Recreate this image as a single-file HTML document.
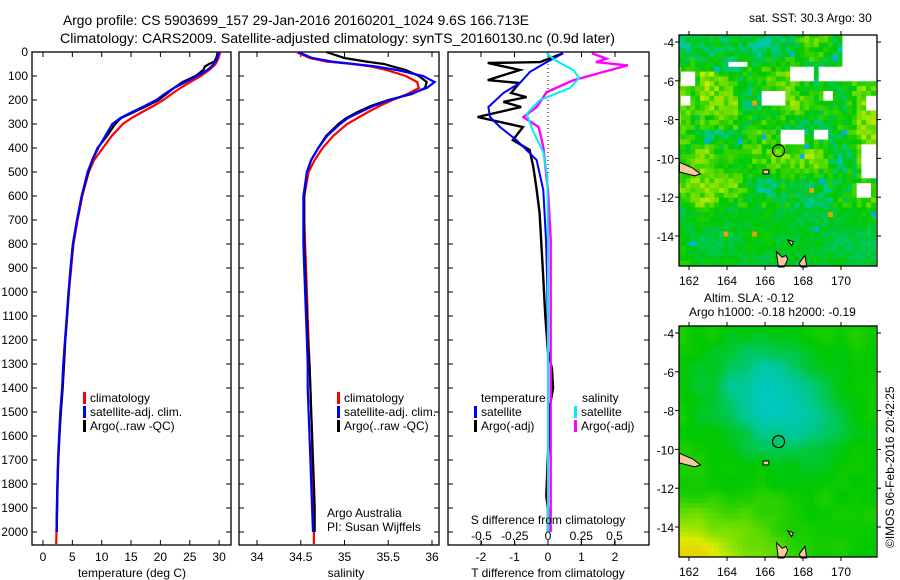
<!DOCTYPE html>
<html><head><meta charset="utf-8"><style>
html,body{margin:0;padding:0;background:#fff}
svg{display:block;font-family:"Liberation Sans",sans-serif}
</style></head><body>
<svg id="fig" width="900" height="580" viewBox="0 0 900 580" xmlns="http://www.w3.org/2000/svg">
<rect width="900" height="580" fill="#fff"/>
<text x="63" y="25" font-size="14" textLength="466" lengthAdjust="spacingAndGlyphs">Argo profile: CS 5903699_157 29-Jan-2016 20160201_1024 9.6S 166.713E</text>
<text x="60" y="43" font-size="14" textLength="555" lengthAdjust="spacingAndGlyphs">Climatology: CARS2009. Satellite-adjusted climatology: synTS_20160130.nc (0.9d later)</text>
<g id="g1"></g>
<g id="g2"></g>
<g id="g3"></g>
<g id="m1"></g>
<g id="m2"></g>
<text x="749" y="22" font-size="12">sat. SST: 30.3 Argo: 30</text>
<text x="704" y="302" font-size="12">Altim. SLA: -0.12</text>
<text x="689" y="316" font-size="12">Argo h1000: -0.18 h2000: -0.19</text>
<text transform="translate(894,548) rotate(-90)" font-size="12">©IMOS 06-Feb-2016 20:42:25</text>
</svg>
<script>
// ---- profile data ----
const depths = [0,25,40,50,60,75,100,125,150,175,200,225,250,275,300,350,400,450,500,600,700,800,900,1000,1100,1200,1300,1400,1500,1600,1700,1800,1900,2000,2050];
const tempClim = [30.2,29.9,29.6,29.4,29.0,28.3,26.9,25.1,23.4,21.9,20.5,18.8,16.9,15.1,13.6,11.7,10.2,8.7,7.8,6.7,5.9,5.2,4.8,4.4,4.1,3.8,3.5,3.3,3.0,2.8,2.6,2.5,2.4,2.3,2.25];
const tempSat = [30.0,29.7,29.4,29.1,28.7,28.0,26.3,24.3,22.3,20.7,19.3,17.3,15.2,13.2,11.8,10.6,9.4,8.4,7.6,6.6,5.8,5.1,4.7,4.35,4.05,3.75,3.45,3.25,2.95,2.75,2.55,2.45,2.35,2.3,null];
const tempArgo = [29.8,29.5,29.2,28.3,27.6,27.3,26.0,23.8,22.3,21.0,19.7,17.7,15.5,13.3,12.3,10.9,9.3,8.4,7.7,6.6,5.8,5.1,4.7,4.4,4.1,3.8,3.6,3.35,3.05,2.8,2.6,2.45,2.4,2.35,null];
const salClim = [34.45,34.6,34.8,35.1,35.3,35.48,35.7,35.83,35.85,35.72,35.55,35.4,35.27,35.15,35.03,34.87,34.75,34.66,34.59,34.54,34.54,34.55,34.56,34.57,34.58,34.59,34.6,34.61,34.62,34.63,34.63,34.64,34.64,34.65,34.65];
const salSat = [34.47,34.63,34.86,35.1,35.35,35.6,35.9,36.03,35.94,35.75,35.52,35.33,35.18,35.04,34.95,34.8,34.7,34.62,34.57,34.53,34.53,34.53,34.54,34.55,34.56,34.57,34.58,34.58,34.59,34.6,34.61,34.62,34.63,34.64,null];
const salArgo = [34.79,35.0,35.25,35.45,35.55,35.7,35.85,35.94,35.92,35.77,35.5,35.3,35.15,35.02,34.93,34.79,34.7,34.62,34.57,34.54,34.54,34.54,34.55,34.56,34.57,34.58,34.6,34.61,34.62,34.63,34.64,34.65,34.66,34.66,null];
const dTArgoDepth = [5,42,46,75,117,129,171,188,208,229,271,313,367,408,479,563,671,921,1100,1250,1320,1400,1480,1600,1850,1900,2000];
const dTArgo = [0.45,-0.24,-1.8,-0.84,-1.8,-0.85,-1.1,-0.64,-1.33,-0.8,-2.1,-0.75,-1.05,-0.55,-0.44,-0.35,-0.25,-0.15,-0.08,0.0,0.12,0.15,0.05,0.02,-0.05,0.0,0.0];
const dTSatDepth = [5,42,83,129,171,229,271,313,367,450,575,783,975,1300,2000];
const dTSat = [0.45,-0.04,-0.54,-0.84,-1.33,-1.78,-1.73,-1.43,-0.94,-0.34,-0.14,-0.06,-0.02,0.0,0.0];
const dSSatDepth = [5,33,75,108,150,200,258,333,417,517,800,2000];
const dSSat = [-0.01,0.05,0.19,0.235,0.165,-0.06,-0.16,-0.11,-0.035,-0.005,0.0,0.0];
const dSArgoDepth = [5,28,42,56,90,118,167,229,271,313,396,575,783,1400,2000];
const dSArgo = [0.33,0.44,0.36,0.6,0.37,0.19,-0.01,-0.085,-0.185,-0.07,-0.035,0.0,0.02,0.02,0.02];
const depthTicks = [0,100,200,300,400,500,600,700,800,900,1000,1100,1200,1300,1400,1500,1600,1700,1800,1900,2000];
const tempTicks = [0,5,10,15,20,25,30];
const salTicks = [34,34.5,35,35.5,36];
const dTTicks = [-2,-1,0,1,2];
const dSTicks = [-0.5,-0.25,0,0.25,0.5];
const dSTickLabels = ["-0.5","-0.25","0","0.25","0.5"];
const lonTicks = [162,164,166,168,170];
const latTicks = [-4,-6,-8,-10,-12,-14];

const NS="http://www.w3.org/2000/svg";
function mk(parent,tag,attrs,text){const e=document.createElementNS(NS,tag);for(const k in attrs)e.setAttribute(k,attrs[k]);if(text!==undefined)e.textContent=text;parent.appendChild(e);return e;}

const Y0=52, Y1=545;
const dy = d => Y0 + d*0.24;
const tx = t => 43 + t*5.87;
const sx = s => 257 + (s-34)*87.5;
const dtx = t => 548 + t*33.5;
const dsx = s => 548 + s*133;

function frame(g,x0,x1,name,xt,xf){
  const r=mk(g,'rect',{x:x0,y:Y0,width:x1-x0,height:Y1-Y0,fill:'none',stroke:'#000','stroke-width':1.3});
  
  
  depthTicks.forEach(d=>{
    mk(g,'line',{x1:x0,x2:x0+5,y1:dy(d),y2:dy(d),stroke:'#000'});
    mk(g,'line',{x1:x1-5,x2:x1,y1:dy(d),y2:dy(d),stroke:'#000'});
  });
  if(xt) xt.forEach(v=>{
    mk(g,'line',{x1:xf(v),x2:xf(v),y1:Y0,y2:Y0+5,stroke:'#000'});
    mk(g,'line',{x1:xf(v),x2:xf(v),y1:Y1-5,y2:Y1,stroke:'#000'});
  });
}
function poly(g,ds,vs,xf,color,name,w){
  const pts=[];ds.forEach((d,i)=>{if(vs[i]!==null)pts.push(xf(vs[i]).toFixed(1)+','+dy(d).toFixed(1));});
  const p=mk(g,'polyline',{points:pts.join(' '),fill:'none',stroke:color,'stroke-width':w||2.2,'stroke-linejoin':'miter'});
  
  
}
function legend(g,x,y,color,label,name){
  mk(g,'rect',{x:x,y:y-10,width:3,height:12,fill:color});
  const t=mk(g,'text',{x:x+7,y:y,'font-size':12},label);
  
  
}

// Panel 1
const g1=document.getElementById('g1');
frame(g1,32,231,'temperature',tempTicks,tx);
depthTicks.forEach(d=>{const t=mk(g1,'text',{x:28,y:dy(d)+4,'font-size':12,'text-anchor':'end'},String(d));
  
  });
tempTicks.forEach(v=>{const t=mk(g1,'text',{x:tx(v),y:561,'font-size':12,'text-anchor':'middle'},String(v));
  
  });
{const t=mk(g1,'text',{x:132,y:577,'font-size':12,'text-anchor':'middle'},'temperature (deg C)');
  
  }
poly(g1,depths,tempClim,tx,'#f00','temp-climatology-line');
poly(g1,depths,tempArgo,tx,'#000','temp-argo-line');
poly(g1,depths,tempSat,tx,'#00f','temp-satellite-line');
legend(g1,83,402,'#f00','climatology','legend-climatology');
legend(g1,83,416,'#00f','satellite-adj. clim.','legend-satellite');
legend(g1,83,430,'#000','Argo(..raw -QC)','legend-argo');

// Panel 2
const g2=document.getElementById('g2');
frame(g2,239,439,'salinity',salTicks,sx);
salTicks.forEach(v=>{const t=mk(g2,'text',{x:sx(v),y:561,'font-size':12,'text-anchor':'middle'},String(v));
  
  });
{const t=mk(g2,'text',{x:346,y:577,'font-size':12,'text-anchor':'middle'},'salinity');
  
  }
poly(g2,depths,salClim,sx,'#f00','sal-climatology-line');
poly(g2,depths,salArgo,sx,'#000','sal-argo-line');
poly(g2,depths,salSat,sx,'#00f','sal-satellite-line');
legend(g2,337,402,'#f00','climatology','legend-climatology-sal');
legend(g2,337,416,'#00f','satellite-adj. clim.','legend-satellite-sal');
legend(g2,337,430,'#000','Argo(..raw -QC)','legend-argo-sal');
{const t=mk(g2,'text',{x:327,y:517,'font-size':12},'Argo Australia');
  
 const t2=mk(g2,'text',{x:327,y:531,'font-size':12},'PI: Susan Wijffels');
  }

// Panel 3
const g3=document.getElementById('g3');
frame(g3,448,649,'difference',null,null);
dTTicks.forEach(v=>{mk(g3,'line',{x1:dtx(v),x2:dtx(v),y1:Y0,y2:Y0+5,stroke:'#000'});mk(g3,'line',{x1:dtx(v),x2:dtx(v),y1:Y1-5,y2:Y1,stroke:'#000'});
  const t=mk(g3,'text',{x:dtx(v),y:561,'font-size':12,'text-anchor':'middle'},String(v));
  });
mk(g3,'line',{x1:548,x2:548,y1:Y0,y2:dy(2000),stroke:'#000','stroke-dasharray':'1,3'});
poly(g3,dTArgoDepth,dTArgo,dtx,'#000','t-diff-argo-line',2.4);
poly(g3,dTSatDepth,dTSat,dtx,'#00f','t-diff-satellite-line',2);
poly(g3,dSArgoDepth,dSArgo,dsx,'#f0f','s-diff-argo-line',2.4);
poly(g3,dSSatDepth,dSSat,dsx,'#0ee','s-diff-satellite-line',2);
dSTicks.forEach((v,i)=>{mk(g3,'line',{x1:dsx(v),x2:dsx(v),y1:Y1-4,y2:Y1,stroke:'#000'});
  const t=mk(g3,'text',{x:dsx(v),y:540,'font-size':12,'text-anchor':'middle'},dSTickLabels[i]);
  });
{const t=mk(g3,'text',{x:548,y:524,'font-size':12,'text-anchor':'middle'},'S difference from climatology');
  
 const t2=mk(g3,'text',{x:548,y:577,'font-size':12,'text-anchor':'middle'},'T difference from climatology');
  
 const t3=mk(g3,'text',{x:481,y:402,'font-size':12},'temperature');
  
 const t4=mk(g3,'text',{x:582,y:402,'font-size':12},'salinity');
  }
legend(g3,474,416,'#00f','satellite','legend-t-satellite');
legend(g3,474,430,'#000','Argo(-adj)','legend-t-argo');
legend(g3,574,416,'#0ee','satellite','legend-s-satellite');
legend(g3,574,430,'#f0f','Argo(-adj)','legend-s-argo');

// ---- maps ----
function h(i,j,s){let n=(i*374761393+j*668265263+s*1442695041)|0;n=(n^(n>>>13))*1274126177|0;return ((n^(n>>>16))>>>0)/4294967295;}
function vn(x,y,s){const xi=Math.floor(x),yi=Math.floor(y),fx=x-xi,fy=y-yi;
  const a=h(xi,yi,s),b=h(xi+1,yi,s),c=h(xi,yi+1,s),d=h(xi+1,yi+1,s);
  const u=fx*fx*(3-2*fx),v=fy*fy*(3-2*fy);return a+(b-a)*u+(c-a)*v+(a-b-c+d)*u*v;}
function cmap(v){
  const st=[[-1,[0,70,220]],[-0.7,[0,200,230]],[-0.35,[0,200,150]],[0,[0,200,0]],[0.35,[120,225,0]],[0.6,[220,235,0]],[0.8,[240,200,0]],[1,[200,60,0]]];
  v=Math.max(-1,Math.min(1,v));
  for(let k=0;k<st.length-1;k++){if(v<=st[k+1][0]){const t=(v-st[k][0])/(st[k+1][0]-st[k][0]);const a=st[k][1],b=st[k+1][1];
    return 'rgb('+a.map((x,i)=>Math.round(x+(b[i]-x)*t)).join(',')+')';}}
  return 'rgb(200,60,0)';
}
const gaps=[[170.2,171.9,-3.6,-5.2],[168.8,171.9,-5.2,-6.0],[167.3,168.6,-5.3,-6.0],[161.5,162.3,-5.6,-6.3],[165.8,167.0,-6.6,-7.2],[164.2,165.0,-5.0,-5.3],[169.0,169.5,-6.5,-7.0],[171.3,171.9,-6.8,-7.6],[166.8,168.0,-8.6,-9.2],[168.7,169.2,-8.5,-9.0],[171.1,171.9,-9.4,-10.9],[170.9,171.6,-11.3,-11.9],[161.5,162.0,-6.8,-7.2]];
function map(id,top,kind){
  const g=document.getElementById(id);
  const X0=679,X1=877,Yb=top+231;
  const lx=lon=>689+(lon-162)*19;
  const ly=lat=>top+7+(-4-lat)*19.4;
  const cw=4.75,ch=4.85;
  for(let lon=161.45;lon<171.9;lon+=0.25){
    for(let lat=-3.65;lat>-15.6;lat-=0.25){
      const i=Math.round(lon*4),j=Math.round(-lat*4);
      let col;
      if(kind===1){
        const gap=gaps.some(b=>lon>=b[0]&&lon<=b[1]&&lat<=b[2]&&lat>=b[3]);
        if(gap){col='#fff';}
        else{
          let v=(vn(lon*0.7,lat*0.7,3)-0.48)*0.7+(h(i,j,5)-0.5)*0.4;
          if(lat>-8.5 && lat<-5.5 && lon>162.5 && lon<164.5) v+=0.25;
          if(lat<-12.5) v=v*0.4-0.06;
          if(h(i,j,9)>0.993) v=-0.75;
          if(h(i,j,11)>0.996) v=0.85;
          col=cmap(v);
        }
      } else {
        let v=0.05-0.5*Math.exp(-((lon-166)*(lon-166)/8+(lat+7)*(lat+7)/6))-0.25*Math.exp(-((lon-168)*(lon-168)/6+(lat+9)*(lat+9)/4));
        v+=Math.max(0,(-lat-12)*0.15)*Math.max(0,(168.5-lon)/5);
        v+=Math.max(0,(-lat-14.3)*0.12)*Math.max(0,(163.5-lon)/2);
        v+=(vn(lon*1.2,lat*1.2,4)-0.5)*0.12;
        v=Math.min(v,0.72);
        col=cmap(v);
      }
      const x=lx(lon)-cw/2,y=ly(lat)-ch/2;
      const x0=Math.max(X0,x),y0=Math.max(top,y),x1=Math.min(X1,x+cw),y1=Math.min(Yb,y+ch);
      if(x1>x0&&y1>y0) mk(g,'rect',{x:x0.toFixed(2),y:y0.toFixed(2),width:(x1-x0+0.4).toFixed(2),height:(y1-y0+0.4).toFixed(2),fill:col});
    }
  }
  const land=[[[161.5,-10.2],[162.2,-10.5],[162.6,-10.8],[162.3,-10.9],[161.5,-10.7]],
    [[166.6,-14.8],[166.9,-15.1],[167.1,-15.0],[167.2,-15.2],[167.0,-15.6],[166.7,-15.6]],
    [[165.9,-10.6],[166.2,-10.6],[166.2,-10.8],[165.9,-10.8]],
    [[167.8,-15.4],[168.1,-15.0],[168.2,-15.6],[167.9,-15.6]],
    [[167.2,-14.2],[167.5,-14.3],[167.4,-14.5]]];
  land.forEach(p=>{const e=mk(g,'polygon',{points:p.map(q=>lx(q[0]).toFixed(1)+','+ly(q[1]).toFixed(1)).join(' '),fill:'#f8c8a0',stroke:'#000','stroke-width':1});
    });
  const c=mk(g,'circle',{cx:lx(166.713),cy:ly(-9.6),r:6,fill:'none',stroke:'#000','stroke-width':1.2});
  
  
  mk(g,'rect',{x:X0,y:top,width:X1-X0,height:Yb-top,fill:'none',stroke:'#000','stroke-width':1.3});
  lonTicks.forEach(v=>{mk(g,'line',{x1:lx(v),x2:lx(v),y1:top,y2:top-4,stroke:'#000'});mk(g,'line',{x1:lx(v),x2:lx(v),y1:Yb,y2:Yb+4,stroke:'#000'});
    const t=mk(g,'text',{x:lx(v),y:Yb+19,'font-size':12,'text-anchor':'middle'},String(v));
    });
  latTicks.forEach(v=>{mk(g,'line',{x1:X0,x2:X0-4,y1:ly(v),y2:ly(v),stroke:'#000'});mk(g,'line',{x1:X1,x2:X1+4,y1:ly(v),y2:ly(v),stroke:'#000'});
    const t=mk(g,'text',{x:X0-5,y:ly(v)+5,'font-size':12,'text-anchor':'end'},String(v));
    });
}
map('m1',35,1);
map('m2',326,2);
</script>
</body></html>
